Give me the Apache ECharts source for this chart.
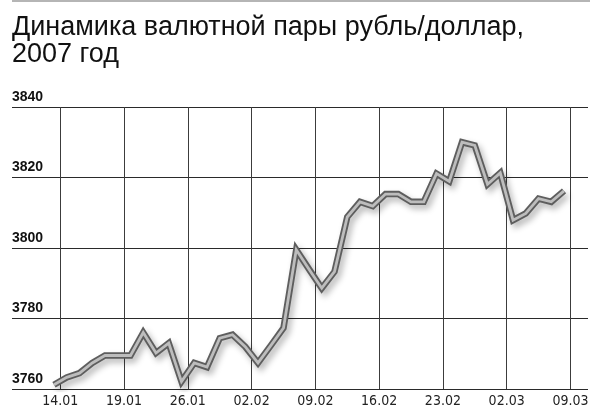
<!DOCTYPE html>
<html>
<head>
<meta charset="utf-8">
<script src="https://cdn.jsdelivr.net/npm/echarts@6/dist/echarts.min.js"></script>
<style>
html,body{margin:0;padding:0;background:#fff;}
#chart{width:600px;height:414px;}
</style>
</head>
<body>
<div id="chart"></div>
<script>
// ---- data ----
const titleText = 'Динамика валютной пары рубль/доллар,\n2007 год';
const tickLabels = ['14.01','19.01','26.01','02.02','09.02','16.02','23.02','02.03','09.03'];
const yTicks = [3760, 3780, 3800, 3820, 3840];
const rateValues = [
  3761.2, 3763.3, 3764.5, 3767.4, 3769.5, 3769.5, 3769.5, 3776.0, 3770.2, 3773.0,
  3762.1, 3767.4, 3766.2, 3774.4, 3775.4, 3772.0, 3767.4, 3772.3, 3777.3, 3799.5,
  3794.0, 3788.6, 3793.3, 3808.8, 3813.1, 3811.9, 3815.3, 3815.3, 3813.1, 3813.1,
  3821.1, 3818.9, 3830.0, 3829.1, 3818.1, 3821.3, 3807.9, 3809.8, 3814.0, 3813.1,
  3816.2
];

// categories for points and for the boundaries between them
const pointCats = rateValues.map((v, i) => 'p' + i);
const boundaryCats = [];
for (let k = 0; k <= rateValues.length; k++) boundaryCats.push('b' + k);

const narrow = '"Liberation Sans Narrow", "DejaVu Sans Condensed", "Roboto Condensed", "Arial Narrow", sans-serif';

const chart = echarts.init(document.getElementById('chart'), null, {renderer: 'canvas'});
chart.setOption({
  animation: false,
  backgroundColor: '#fff',
  title: {
    text: titleText,
    left: 7,
    top: 9,
    textStyle: {
      fontFamily: 'Liberation Sans, Arial, sans-serif',
      fontSize: 27,
      fontWeight: 'normal',
      color: '#111',
      lineHeight: 27
    }
  },
  graphic: [{
    type: 'rect',
    shape: {x: 12, y: 0, width: 578, height: 2},
    style: {fill: '#b5b5b5'}
  }],
  grid: [
    {left: 47.6, right: 29.6, top: 107, bottom: 25},
    {left: 12, right: 12, top: 107, bottom: 25}
  ],
  xAxis: [
    {
      type: 'category', gridIndex: 0, data: pointCats, boundaryGap: true, show: false
    },
    {
      type: 'category', gridIndex: 0, data: boundaryCats, boundaryGap: false, position: 'bottom',
      axisLine: {show: false}, axisTick: {show: false},
      splitLine: {show: true, interval: (idx) => idx % 5 === 1, lineStyle: {color: '#3c3c3c', width: 1}},
      axisLabel: {
        show: true, interval: (idx) => idx % 5 === 1,
        formatter: (val, idx) => tickLabels[(idx - 1) / 5] || '',
        fontFamily: narrow, fontSize: 14, color: '#222', margin: 5
      }
    },
    {
      type: 'value', gridIndex: 1, show: false, min: 0, max: 1
    }
  ],
  yAxis: [
    {
      type: 'value', gridIndex: 0, min: yTicks[0], max: yTicks[yTicks.length - 1], interval: 20,
      show: false, splitLine: {show: false}
    },
    {
      type: 'value', gridIndex: 1, min: yTicks[0], max: yTicks[yTicks.length - 1], interval: 20,
      axisLine: {show: false}, axisTick: {show: false},
      splitLine: {show: true, lineStyle: {color: '#2a2a2a', width: 1}},
      axisLabel: {
        inside: true, margin: 0, verticalAlign: 'bottom', padding: [0, 0, 3, 0],
        showMinLabel: true, showMaxLabel: true,
        formatter: (v) => String(v),
        fontFamily: 'Liberation Sans, Arial, sans-serif', fontWeight: 'bold', fontSize: 14, color: '#111'
      }
    }
  ],
  series: [
    {
      type: 'line', xAxisIndex: 0, yAxisIndex: 0, data: rateValues,
      showSymbol: false, symbol: 'none', silent: true,
      lineStyle: {
        color: '#5e5e5e', width: 6.5, join: 'miter', cap: 'butt',
        shadowColor: 'rgba(0,0,0,0.28)', shadowBlur: 6, shadowOffsetX: 3, shadowOffsetY: 4
      },
      z: 2
    },
    {
      type: 'line', xAxisIndex: 0, yAxisIndex: 0, data: rateValues,
      showSymbol: false, symbol: 'none', silent: true,
      lineStyle: {color: '#bdbdbd', width: 2.8, join: 'miter', cap: 'butt'},
      z: 3
    }
  ]
});
</script>
</body>
</html>
